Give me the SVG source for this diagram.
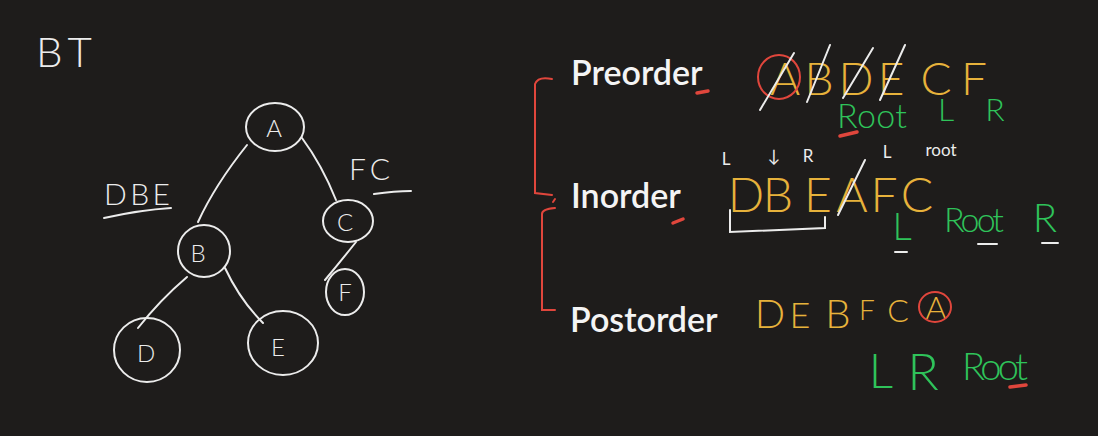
<svg xmlns="http://www.w3.org/2000/svg" width="1098" height="436" viewBox="0 0 1098 436">
<style>
.hw{font-family:Lato,"Liberation Sans",sans-serif;font-weight:300}
.w{fill:#ececec}
.y{fill:#e7b23b}
.g{fill:#2fc35a}
.sm{font-family:Lato,"Liberation Sans",sans-serif;font-weight:400;fill:#ececec;font-size:17px;text-anchor:middle}
.lbl{font-family:Lato,"Liberation Sans",sans-serif;font-weight:600;fill:#f4f4f4;font-size:34px}
.node ellipse{fill:none;stroke:#ececec;stroke-width:2}
.node text{font-family:Lato,"Liberation Sans",sans-serif;font-weight:300;fill:#ececec;font-size:24px;text-anchor:middle}
.edge{stroke:#ececec;stroke-width:2;fill:none;stroke-linecap:round}
.ws{stroke:#ececec;stroke-width:2;fill:none;stroke-linecap:round}
.rs{stroke:#e0463c;stroke-width:2;fill:none;stroke-linecap:round}
.rm{stroke:#e0463c;stroke-width:3.5;fill:none;stroke-linecap:round}
.c{text-anchor:middle}
</style>
<rect width="1098" height="436" fill="#1e1c1b"/>
<text class="hw w" x="36" y="67" font-size="42" letter-spacing="6">BT</text>
<g id="connectors">
<path class="edge" d="M247,145 Q215,185 198,222"/>
<path class="edge" d="M302,138 Q322,165 336,200"/>
<path class="edge" d="M187,277 Q160,300 138,328"/>
<path class="edge" d="M225,268 Q240,300 263,323"/>
<path class="edge" d="M356,242 Q340,262 325,280"/>
</g>
<g id="node-A" class="node"><ellipse cx="275" cy="127" rx="29" ry="24"/><text x="274" y="137">A</text></g>
<g id="node-B" class="node"><ellipse cx="204" cy="251" rx="26" ry="26"/><text x="198" y="262">B</text></g>
<g id="node-C" class="node"><ellipse cx="348" cy="221" rx="25" ry="21"/><text x="345" y="231">C</text></g>
<g id="node-F" class="node"><ellipse cx="345" cy="292" rx="19" ry="23"/><text x="345" y="301" font-size="20">F</text></g>
<g id="node-D" class="node"><ellipse cx="147" cy="350" rx="33" ry="32"/><text x="146" y="362">D</text></g>
<g id="node-E" class="node"><ellipse cx="283" cy="343" rx="35" ry="32"/><text x="278" y="356">E</text></g>
<text class="hw w" x="104" y="205" font-size="30" textLength="66">DBE</text>
<path class="ws" d="M104,218 Q140,210 171,208"/>
<text class="hw w" x="349" y="180" font-size="30" letter-spacing="4">FC</text>
<path class="ws" d="M374,194 Q395,191 411,191"/>
<g id="brackets">
<path class="rs" d="M552,79 Q538,76 535,84 L535,193 L552,195"/>
<path class="rs" d="M555,199 L553,202"/>
<path class="rs" d="M555,208 Q542,209 542,214 L542,310 L555,310"/>
</g>
<text class="lbl" x="571" y="85">Preorder</text>
<text class="lbl" x="571" y="208">Inorder</text>
<text class="lbl" x="570" y="332">Postorder</text>
<path class="rm" d="M697,93 L708,91"/>
<path class="rm" d="M673,223 L683,219"/>
<g font-size="46" class="hw y c">
<text x="785" y="95">A</text><text x="819" y="95">B</text><text x="856" y="95">D</text><text x="891" y="95">E</text><text x="936" y="95">C</text><text x="974" y="95">F</text>
</g>
<ellipse cx="779" cy="77" rx="21" ry="22" class="rs"/>
<path class="ws" d="M760,110 L794,53 M807,102 L830,45 M843,98 L873,48 M880,100 L905,45"/>
<text class="hw g" x="837" y="128" font-size="34" textLength="70">Root</text>
<text class="hw g c" x="946" y="121" font-size="32">L</text>
<text class="hw g c" x="995" y="121" font-size="32">R</text>
<path class="rm" d="M840,136 L857,132"/>
<text class="sm" x="726" y="165">L</text><text class="sm" x="774" y="162">↓</text><text class="sm" x="808" y="162">R</text><text class="sm" x="887" y="158">L</text><text class="sm" x="941" y="156">root</text>
<g font-size="48" class="hw y c">
<text x="746" y="212">D</text><text x="778" y="212">B</text><text x="818" y="212">E</text><text x="852" y="212">A</text><text x="884" y="212">F</text><text x="917" y="212">C</text>
</g>
<path class="ws" d="M838,215 L865,160"/>
<path class="ws" d="M730,210 L730,232 L825,228 L825,217"/>
<text class="hw g c" x="902" y="240" font-size="38">L</text>
<text class="hw g" x="944" y="232" font-size="34" textLength="60">Root</text>
<text class="hw g c" x="1045" y="232" font-size="40">R</text>
<path class="ws" d="M895,252 L907,252 M978,244 L997,244 M1042,243 L1058,243"/>
<g class="hw y c">
<text x="770" y="328" font-size="40">D</text><text x="800" y="328" font-size="36">E</text><text x="838" y="328" font-size="40">B</text><text x="867" y="320" font-size="28">F</text><text x="898" y="322" font-size="32">C</text><text x="936" y="319" font-size="32">A</text>
</g>
<ellipse cx="935" cy="307" rx="16" ry="15" class="rs"/>
<text class="hw g c" x="881" y="388" font-size="48">L</text>
<text class="hw g c" x="923" y="390" font-size="52">R</text>
<text class="hw g" x="962" y="380" font-size="38" textLength="66">Root</text>
<path class="rm" d="M1010,387 L1026,385"/>
</svg>
